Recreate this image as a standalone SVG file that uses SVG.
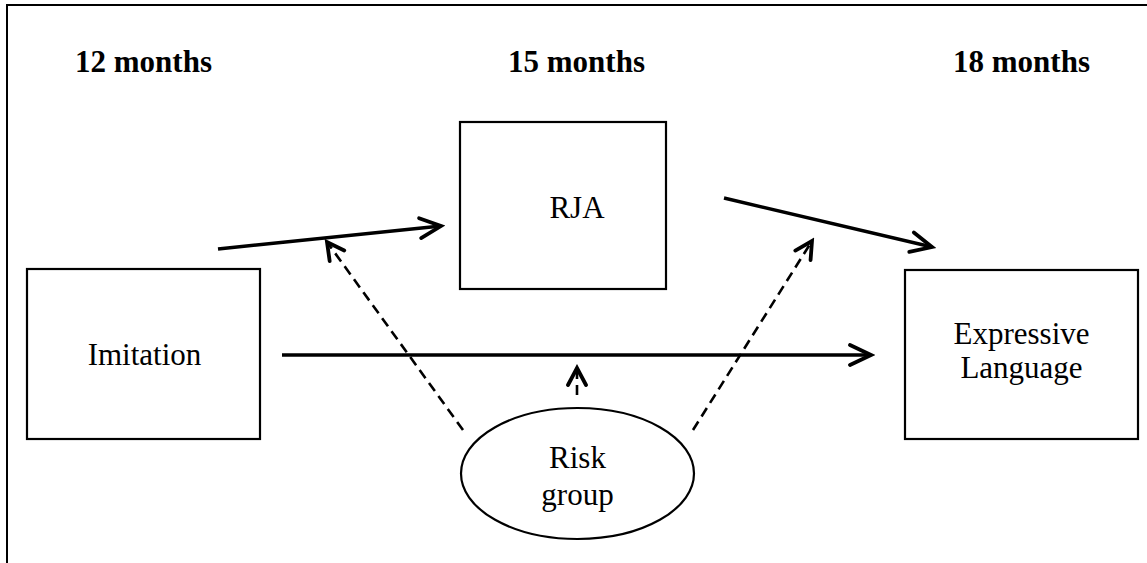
<svg xmlns="http://www.w3.org/2000/svg" width="1147" height="563" viewBox="0 0 1147 563">
<style>
.box{fill:#fff;stroke:#000;stroke-width:2.2}
.lbl{font-family:"Liberation Serif","Times New Roman",serif;font-size:31px;fill:#000;text-anchor:middle}
.hdr{font-family:"Liberation Serif","Times New Roman",serif;font-size:31px;font-weight:bold;fill:#000}
.solid{stroke:#000;stroke-width:3.4;fill:none}
.dash{stroke:#000;stroke-width:2.6;fill:none;stroke-dasharray:10 6}
</style>
<defs>
<marker id="ah" markerUnits="userSpaceOnUse" viewBox="-26 -14 30 28" markerWidth="30" markerHeight="28" refX="0" refY="0" orient="auto">
<path d="M-21,-10 L0,0 L-21,10" fill="none" stroke="#000" stroke-width="3.8" stroke-linecap="round" stroke-linejoin="miter"/>
</marker>
<marker id="ahs" markerUnits="userSpaceOnUse" viewBox="-26 -14 30 28" markerWidth="30" markerHeight="28" refX="0" refY="0" orient="auto">
<path d="M-17,-9 L0,0 L-17,9" fill="none" stroke="#000" stroke-width="3.8" stroke-linecap="round" stroke-linejoin="miter"/>
</marker>
</defs>
<rect width="1147" height="563" fill="#fff"/>
<g id="frame">
<path d="M7,563 L7,5 L1147,5" fill="none" stroke="#000" stroke-width="2"/>
</g>
<g id="headers">
<text class="hdr" x="75" y="72">12 months</text>
<text class="hdr" x="508" y="72">15 months</text>
<text class="hdr" x="953" y="72">18 months</text>
</g>
<g id="connectors">
<line class="solid" x1="218" y1="249" x2="441" y2="226" marker-end="url(#ah)"/>
<line class="solid" x1="724" y1="198" x2="932" y2="247" marker-end="url(#ah)"/>
<line class="solid" x1="282" y1="355" x2="871" y2="355" marker-end="url(#ah)"/>
<line class="dash" x1="463" y1="430" x2="327" y2="242" marker-end="url(#ahs)"/>
<line class="dash" x1="693" y1="430" x2="812" y2="241" marker-end="url(#ahs)"/>
<line class="dash" x1="577" y1="395" x2="577" y2="368" marker-end="url(#ahs)"/>
</g>
<g id="imitation">
<rect class="box" x="27" y="269" width="233" height="170"/>
<text class="lbl" x="144.5" y="365">Imitation</text>
</g>
<g id="rja">
<rect class="box" x="460" y="122" width="206" height="167"/>
<text class="lbl" x="577" y="218">RJA</text>
</g>
<g id="expressive">
<rect class="box" x="905" y="270" width="233" height="169"/>
<text class="lbl" x="1021.5" y="344">Expressive</text>
<text class="lbl" x="1021.5" y="378">Language</text>
</g>
<g id="risk">
<ellipse class="box" cx="577.5" cy="473.5" rx="116.5" ry="65.5"/>
<text class="lbl" x="577.5" y="468">Risk</text>
<text class="lbl" x="577.5" y="505">group</text>
</g>
</svg>
